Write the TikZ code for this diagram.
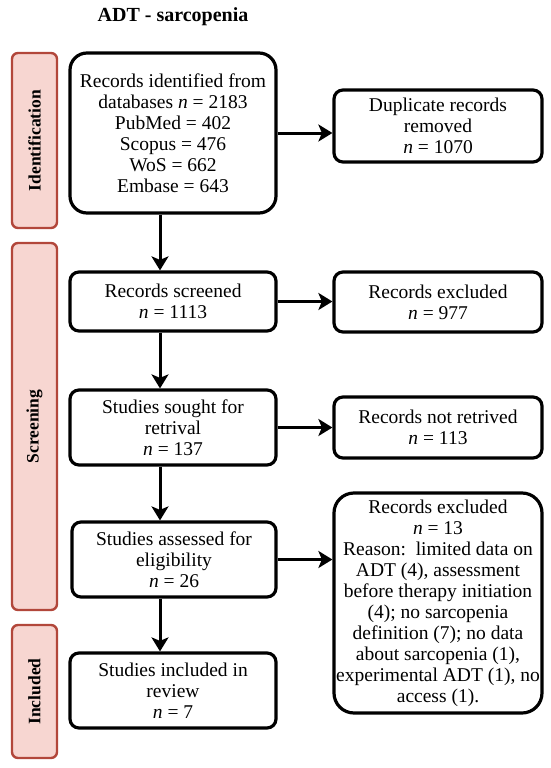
\documentclass[tikz,border=0pt]{standalone}
\usepackage{fontspec}
\setmainfont{Liberation Serif}
\usepackage{xcolor}
\usepackage{tikz}
\usetikzlibrary{arrows.meta}

\definecolor{stagefill}{HTML}{F7D6D1}
\definecolor{stageline}{HTML}{B2473B}

\tikzset{
    box/.style={draw=black,line width=3.2pt,rounded corners=9pt,align=center,
        font=\fontsize{19.5}{21}\selectfont,inner sep=0pt},
    stage/.style={draw=stageline,fill=stagefill,line width=2.4pt,rounded corners=6pt,
        minimum width=45pt,inner sep=0pt},
    stagetext/.style={rotate=90,font=\fontsize{17.5}{19}\selectfont\bfseries},
    arr/.style={line width=3pt,-{Stealth[length=14pt,width=17pt,inset=3.5pt]}}
}

\begin{document}
\begin{tikzpicture}[x=1pt,y=-1pt]
    \useasboundingbox (0,0) rectangle (550,768);

    \node[font=\fontsize{20}{22}\selectfont\bfseries] (title) at (173,17) {ADT - sarcopenia};

    \node[stage,minimum height=175pt] (a) at (34.5,140.5) {};
    \node[stage,minimum height=367pt] (b) at (34.5,426.5) {};
    \node[stage,minimum height=133pt] (c) at (34.5,691.5) {};
    \node[stagetext] at (a) {Identification};
    \node[stagetext] at (b) {Screening};
    \node[stagetext] at (c) {Included};

    \node[box,rounded corners=17pt,minimum width=206pt,minimum height=160pt] (1) at (173,133)
        {Records identified from\\databases \textit{n} = 2183\\PubMed = 402\\Scopus = 476\\WoS = 662\\Embase = 643};
    \node[box,minimum width=208pt,minimum height=72pt] (2) at (438,126)
        {Duplicate records\\removed\\\textit{n} = 1070};
    \node[box,minimum width=206pt,minimum height=59pt] (3) at (173,301.5)
        {Records screened\\\textit{n} = 1113};
    \node[box,minimum width=208pt,minimum height=60pt] (4) at (438,302)
        {Records excluded\\\textit{n} = 977};
    \node[box,minimum width=206pt,minimum height=75pt] (5) at (173,427.5)
        {Studies sought for\\retrival\\\textit{n} = 137};
    \node[box,minimum width=208pt,minimum height=61pt] (6) at (438,427.5)
        {Records not retrived\\\textit{n} = 113};
    \node[box,minimum width=204pt,minimum height=75pt] (7) at (174,559.5)
        {Studies assessed for\\eligibility\\\textit{n} = 26};
    \node[box,rounded corners=20pt,minimum width=208pt,minimum height=220pt] (8) at (438,603)
        {Records excluded\\\textit{n} = 13\\Reason:\ \ limited data on\\ADT (4), assessment\\before therapy initiation\\(4); no sarcopenia\\definition (7); no data\\about sarcopenia (1),\\experimental ADT (1), no\\access (1).};
    \node[box,minimum width=206pt,minimum height=75pt] (9) at (173,690.5)
        {Studies included in\\review\\\textit{n} = 7};

    \path[arr] (1) edge (1 -| 2.west);
    \path[arr] (3) edge (3 -| 4.west);
    \path[arr] (5) edge (5 -| 6.west);
    \path[arr] (7) edge (7 -| 8.west);
    \path[arr] ([xshift=-13pt]1.south) edge ([xshift=-13pt]3.north);
    \path[arr] ([xshift=-13pt]3.south) edge ([xshift=-13pt]5.north);
    \path[arr] ([xshift=-13pt]5.south) edge ([xshift=-14pt]7.north);
    \path[arr] ([xshift=-14pt]7.south) edge ([xshift=-13pt]9.north);
\end{tikzpicture}
\end{document}
